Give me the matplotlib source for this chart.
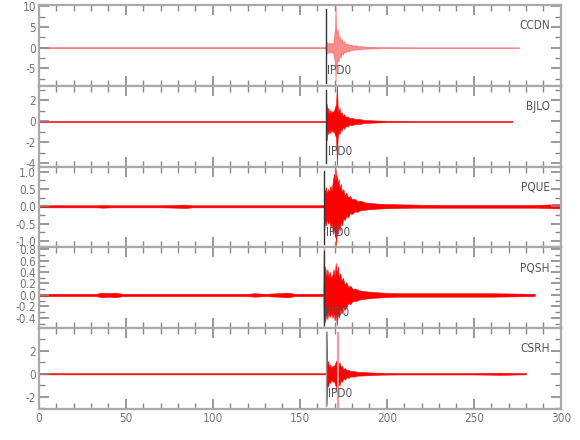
import matplotlib
matplotlib.use("Agg")
import matplotlib.pyplot as plt
from matplotlib.ticker import MultipleLocator, FormatStrFormatter

plt.rcParams['font.family'] = ['Liberation Sans Narrow', 'DejaVu Sans']
plt.rcParams['font.stretch'] = 'condensed'

# --------- Data (envelopes) ---------

stations = ["CCDN", "BJLO", "PQUE", "PQSH", "CSRH"]
pick_time = [164.8, 165.3, 164.0, 163.6, 165.3]
pick_label = "IPD0"
s_pick_csrh = 171.7

ccdn_t = [0, 60, 120, 164.7, 165.0, 165.3, 165.8, 166.3, 167, 167.6, 168.2, 169, 169.5,
          169.9, 170.2, 170.5, 170.8, 171.2, 171.7, 172.2, 172.8, 173.4, 174, 174.7,
          175.5, 176.3, 177.2, 178.2, 179.3, 180.5, 182, 183.5, 185.5, 188, 192, 197,
          205, 220, 276]
ccdn_up = [0.15, 0.15, 0.15, 0.15, 1.6, 0.8, 1.5, 0.7, 1.3, 0.8, 1.2, 0.9, 2.0,
           3.8, 5.0, 10.2, 5.5, 3.2, 4.6, 2.4, 3.0, 1.6, 2.2, 1.2, 1.6, 0.8, 1.1, 0.6,
           0.8, 0.5, 0.6, 0.35, 0.4, 0.25, 0.2, 0.15, 0.12, 0.1, 0.1]
ccdn_lo = [-0.15, -0.15, -0.15, -0.15, -1.4, -0.9, -1.5, -0.8, -1.2, -0.9, -1.3, -0.8,
           -2.2, -3.0, -4.6, -8.3, -4.0, -4.6, -2.8, -3.4, -2.0, -2.4, -1.3, -1.7, -0.9,
           -1.2, -0.7, -0.9, -0.5, -0.6, -0.4, -0.45, -0.3, -0.25, -0.2, -0.15, -0.12,
           -0.1, -0.1]

bjlo_t = [0, 60, 120, 165.1, 165.4, 165.8, 166.3, 166.9, 167.5, 168.1, 168.8, 169.5,
          170.2, 170.8, 171.3, 171.7, 172.2, 172.8, 173.4, 174, 174.7, 175.5, 176.4,
          177.4, 178.5, 180, 182, 184, 186.5, 189, 193, 200, 215, 272]
bjlo_up = [0.05, 0.05, 0.05, 0.05, 1.7, 0.8, 1.3, 0.7, 1.1, 0.8, 1.0, 0.9, 1.4, 1.6,
           3.6, 1.5, 0.9, 1.3, 0.7, 0.9, 0.5, 0.7, 0.4, 0.5, 0.3, 0.35, 0.22, 0.25, 0.15,
           0.13, 0.1, 0.07, 0.05, 0.05]
bjlo_lo = [-0.05, -0.05, -0.05, -0.05, -1.8, -0.9, -1.2, -0.8, -1.1, -0.7, -1.0, -0.9,
           -1.3, -1.5, -4.2, -1.6, -1.0, -1.2, -0.7, -0.9, -0.5, -0.7, -0.4, -0.5, -0.3,
           -0.35, -0.22, -0.25, -0.15, -0.13, -0.1, -0.07, -0.05, -0.05]

pque_t = [0, 10, 20, 33, 37, 41, 50, 60, 70, 79, 84, 88, 100, 120, 140, 155, 163.8,
          164.0, 164.5, 165, 165.6, 166.2, 166.9, 167.6, 168.3, 169, 169.6, 170.1,
          170.5, 170.9, 171.3, 171.8, 172.3, 172.9, 173.5, 174.2, 175, 175.8, 176.7,
          177.7, 178.8, 180, 181.5, 183, 185, 187.5, 190, 194, 198, 205, 215, 230,
          250, 270, 285, 292, 296, 300]
pque_up = [0.03, 0.03, 0.03, 0.03, 0.04, 0.03, 0.03, 0.03, 0.03, 0.04, 0.05, 0.03,
           0.03, 0.03, 0.03, 0.03, 0.03, 0.6, 0.35, 0.55, 0.35, 0.5, 0.4, 0.6, 0.45,
           0.75, 0.95, 0.7, 1.1, 0.75, 0.9, 0.6, 0.8, 0.5, 0.65, 0.4, 0.5, 0.3, 0.4,
           0.25, 0.3, 0.2, 0.22, 0.15, 0.16, 0.11, 0.1, 0.08, 0.07, 0.06, 0.05, 0.04,
           0.04, 0.04, 0.04, 0.05, 0.06, 0.06]
pque_lo = [-0.03, -0.03, -0.03, -0.03, -0.04, -0.03, -0.03, -0.03, -0.03, -0.04, -0.05,
           -0.03, -0.03, -0.03, -0.03, -0.03, -0.03, -0.7, -0.4, -0.55, -0.35, -0.5,
           -0.4, -0.6, -0.5, -0.8, -0.6, -0.9, -0.75, -1.13, -0.7, -0.8, -0.55, -0.7,
           -0.45, -0.55, -0.35, -0.4, -0.28, -0.32, -0.2, -0.22, -0.15, -0.16, -0.11,
           -0.1, -0.08, -0.07, -0.06, -0.05, -0.04, -0.04, -0.04, -0.04, -0.04,
           -0.05, -0.06, -0.06]

pqsh_t = [0, 20, 33, 36, 40, 44, 48, 70, 100, 120, 124, 130, 137, 143, 147, 160, 163.5,
          163.7, 164.1, 164.6, 165.2, 165.8, 166.5, 167.2, 168, 168.7, 169.4, 170,
          170.6, 171.2, 171.8, 172.5, 173.2, 174, 174.8, 175.7, 176.7, 177.8, 179,
          180.5, 182, 184, 186.5, 189, 193, 198, 205, 220, 240, 260, 285]
pqsh_up = [0.02, 0.02, 0.02, 0.04, 0.03, 0.04, 0.02, 0.02, 0.02, 0.02, 0.03, 0.02,
           0.03, 0.04, 0.02, 0.02, 0.02, 0.82, 0.35, 0.5, 0.3, 0.45, 0.3, 0.4, 0.28,
           0.35, 0.45, 0.3, 0.56, 0.35, 0.5, 0.3, 0.38, 0.25, 0.3, 0.18, 0.22, 0.14,
           0.16, 0.1, 0.11, 0.08, 0.07, 0.06, 0.05, 0.04, 0.03, 0.03, 0.03, 0.03, 0.02]
pqsh_lo = [-0.02, -0.02, -0.02, -0.04, -0.03, -0.04, -0.02, -0.02, -0.02, -0.02, -0.03,
           -0.02, -0.03, -0.04, -0.02, -0.02, -0.02, -0.55, -0.35, -0.47, -0.3, -0.42,
           -0.28, -0.38, -0.3, -0.4, -0.3, -0.45, -0.3, -0.53, -0.32, -0.4, -0.25,
           -0.32, -0.2, -0.26, -0.22, -0.14, -0.16, -0.1, -0.11, -0.08, -0.07, -0.06,
           -0.05, -0.04, -0.03, -0.03, -0.03, -0.03, -0.02]

csrh_t = [0, 100, 165.2, 165.4, 165.7, 166.2, 166.8, 167.4, 168.1, 168.8, 169.5, 170.2,
          170.9, 171.6, 172.2, 172.8, 173.5, 174.2, 175, 175.9, 176.9, 178, 179.3,
          181, 183, 186, 190, 196, 205, 220, 250, 265, 280]
csrh_up = [0.05, 0.05, 0.05, 3.7, 0.9, 1.1, 0.6, 0.8, 0.5, 0.7, 0.6, 0.9, 1.1, 1.4, 0.8,
           1.0, 0.55, 0.7, 0.4, 0.5, 0.3, 0.35, 0.22, 0.25, 0.16, 0.15, 0.12, 0.08,
           0.06, 0.06, 0.06, 0.09, 0.05]
csrh_lo = [-0.05, -0.05, -0.05, -2.7, -1.0, -1.1, -0.6, -0.8, -0.5, -0.7, -0.6, -0.9,
           -1.3, -1.8, -0.9, -1.0, -0.55, -0.7, -0.4, -0.5, -0.3, -0.35, -0.22, -0.25,
           -0.16, -0.15, -0.12, -0.08, -0.06, -0.06, -0.06, -0.09, -0.05]

traces = [
    (ccdn_t, ccdn_up, ccdn_lo),
    (bjlo_t, bjlo_up, bjlo_lo),
    (pque_t, pque_up, pque_lo),
    (pqsh_t, pqsh_up, pqsh_lo),
    (csrh_t, csrh_up, csrh_lo),
]

ylims = [(-9.2, 10.3), (-4.3, 3.4), (-1.19, 1.15), (-0.58, 0.83), (-3.05, 3.95)]
y_major = [5, 2, 0.5, 0.2, 2]
y_minor = [2.5, 1, 0.25, 0.1, 1]
y_fmt = ["%g", "%g", "%.1f", "%.1f", "%g"]
trace_alpha = [0.45, 1.0, 1.0, 1.0, 1.0]

# --------- Layout ---------

fig = plt.figure(figsize=(5.8, 4.4), dpi=100)
left, width = 0.067, 0.9
bottom, top = 0.0705, 0.9886
h = (top - bottom) / 5

frame = "#aaaaaa"
text_grey = "#777777"

for i, name in enumerate(stations):
    ax = fig.add_axes([left, top - (i + 1) * h, width, h])
    t, up, lo = traces[i]
    ax.fill_between(t, lo, up, color="red", lw=0.4, alpha=trace_alpha[i])

    ax.axvline(pick_time[i], ymin=0.04, ymax=0.95,
               color="#999999" if i == 4 else "#333333", lw=1.0)
    if i == 4:
        ax.axvline(s_pick_csrh, ymin=0.02, ymax=0.94, color="#ff9999", lw=1.5)
    ax.text(pick_time[i] + 1.0, 0.19, pick_label, transform=ax.get_xaxis_transform(),
            fontsize=8.5, color="#555555", ha="left", va="center")
    ax.text(0.979, 0.75, name, transform=ax.transAxes, fontsize=8.5,
            color="#555555", ha="right", va="center")

    ax.set_xlim(0, 300)
    ax.set_ylim(*ylims[i])
    ax.xaxis.set_major_locator(MultipleLocator(50))
    ax.xaxis.set_minor_locator(MultipleLocator(10))
    ax.yaxis.set_major_locator(MultipleLocator(y_major[i]))
    ax.yaxis.set_minor_locator(MultipleLocator(y_minor[i]))
    ax.yaxis.set_major_formatter(FormatStrFormatter(y_fmt[i]))

    for sp in ax.spines.values():
        sp.set_color(frame)
        sp.set_linewidth(1.6)
    ax.tick_params(which="both", direction="in", top=True, right=True,
                   color="#888888", labelcolor=text_grey, labelsize=8.5, pad=2)
    ax.tick_params(which="major", length=7, width=1.2)
    ax.tick_params(which="minor", length=4, width=1)
    if i < 4:
        ax.tick_params(labelbottom=False)

fig.savefig("out.png", dpi=100)
